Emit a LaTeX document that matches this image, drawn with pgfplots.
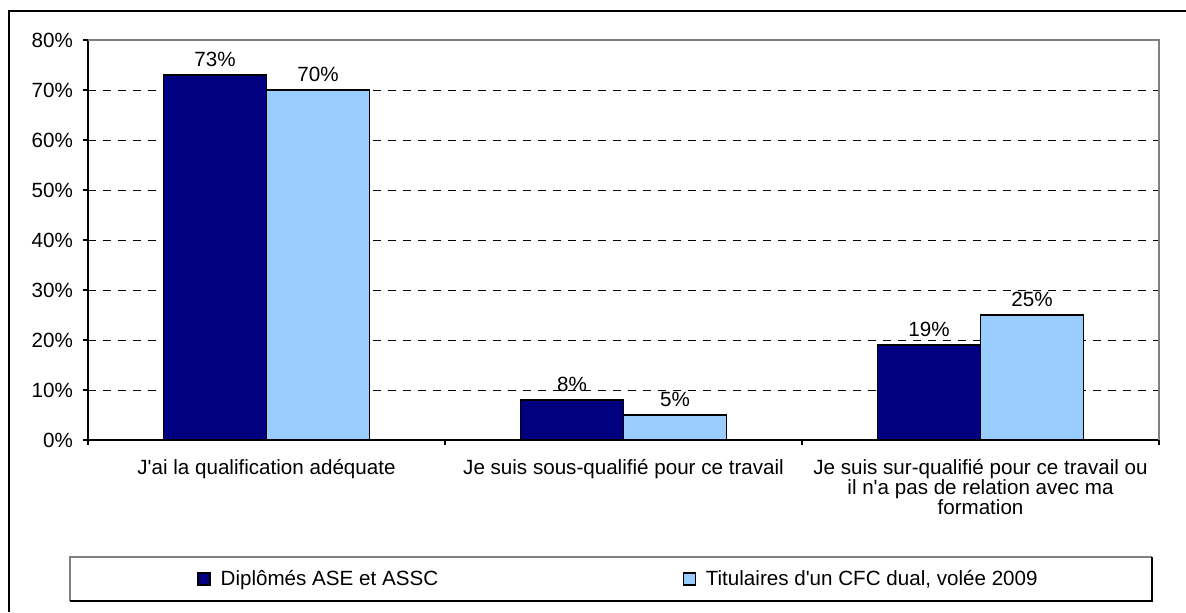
\documentclass[border=0pt]{standalone}
\usepackage{fontspec}
\setmainfont{Liberation Sans}
\usepackage{pgfplots}
\pgfplotsset{compat=1.18}
\definecolor{navyb}{RGB}{0,0,128}
\definecolor{lightb}{RGB}{153,204,255}
\definecolor{framegray}{RGB}{128,128,128}

\begin{document}
\begin{tikzpicture}[font=\fontsize{10.3}{10}\selectfont]
\useasboundingbox (0,0) rectangle (593pt,306pt);
% outer frame (only top and left visible)
\draw[black, line width=0.6pt] (4.5pt,0) -- (4.5pt,300.5pt) -- (593pt,300.5pt);

\begin{axis}[
    at={(44pt,86pt)}, anchor=south west,
    scale only axis, width=535.5pt, height=200pt,
    ymin=0, ymax=80, xmin=-0.5, xmax=2.5,
    ybar=0pt, bar width=51.5pt,
    axis lines*=left,
    axis line style={black, line width=0.6pt},
    clip=false,
    tick align=outside,
    major tick length=2.5pt,
    tick style={black, line width=0.6pt},
    ytick={0,10,...,80},
    yticklabel={\pgfmathprintnumber{\tick}\%},
    /pgf/number format/assume math mode=true,
    ymajorgrids,
    grid style={black, line width=0.5pt, dash pattern=on 4pt off 3.5pt},
    xtick={-0.5,0.5,1.5,2.5},
    xticklabels={},
    extra x ticks={0,1,2},
    extra x tick labels={J\textquotesingle ai la qualification adéquate,
        Je suis sous-qualifié pour ce travail,
        {Je suis sur-qualifié pour ce travail ou\\il n\textquotesingle a pas de relation avec ma\\formation}},
    extra x tick style={major tick length=0pt},
    xticklabel style={align=center, yshift=-6pt, font=\fontsize{10.3}{10}\selectfont},
    yticklabel style={xshift=-1.5pt, font=\fontsize{10.3}{10}\selectfont},
    nodes near coords={\pgfmathprintnumber{\pgfplotspointmeta}\%},
    nodes near coords style={font=\fontsize{10.3}{10}\selectfont, black, yshift=0.5pt},
    legend columns=2,
    legend style={at={(0.1018,-0.3475)}, anchor=west, draw=none, fill=none,
        inner sep=0pt, font=\fontsize{10.3}{10}\selectfont,
        nodes={inner xsep=0pt, inner ysep=1pt},
        /tikz/every odd column/.append style={column sep=5pt},
        /tikz/every even column/.append style={column sep=10pt}},
    legend image code/.code={\draw[#1, draw=black, line width=0.6pt] (0pt,-3pt) rectangle (6pt,3pt);},
]
\addplot[fill=navyb, draw=black, line width=0.6pt] coordinates {(0,73) (1,8) (2,19)};
\addplot[fill=lightb, draw=black, line width=0.6pt] coordinates {(0,70) (1,5) (2,25)};
\legend{\makebox[221pt][l]{Diplômés ASE et ASSC}, {Titulaires d\textquotesingle un CFC dual, volée 2009}}
% plot area border, top and right
\draw[framegray, line width=0.7pt] (rel axis cs:0,1) -- (rel axis cs:1,1) -- (rel axis cs:1,0);
\end{axis}

% legend frame
\draw[framegray, line width=0.9pt] (35pt,5.5pt) -- (35pt,27.5pt) -- (576pt,27.5pt);
\draw[black, line width=0.6pt] (576pt,27.5pt) -- (576pt,5.5pt) -- (35pt,5.5pt);
\end{tikzpicture}
\end{document}
